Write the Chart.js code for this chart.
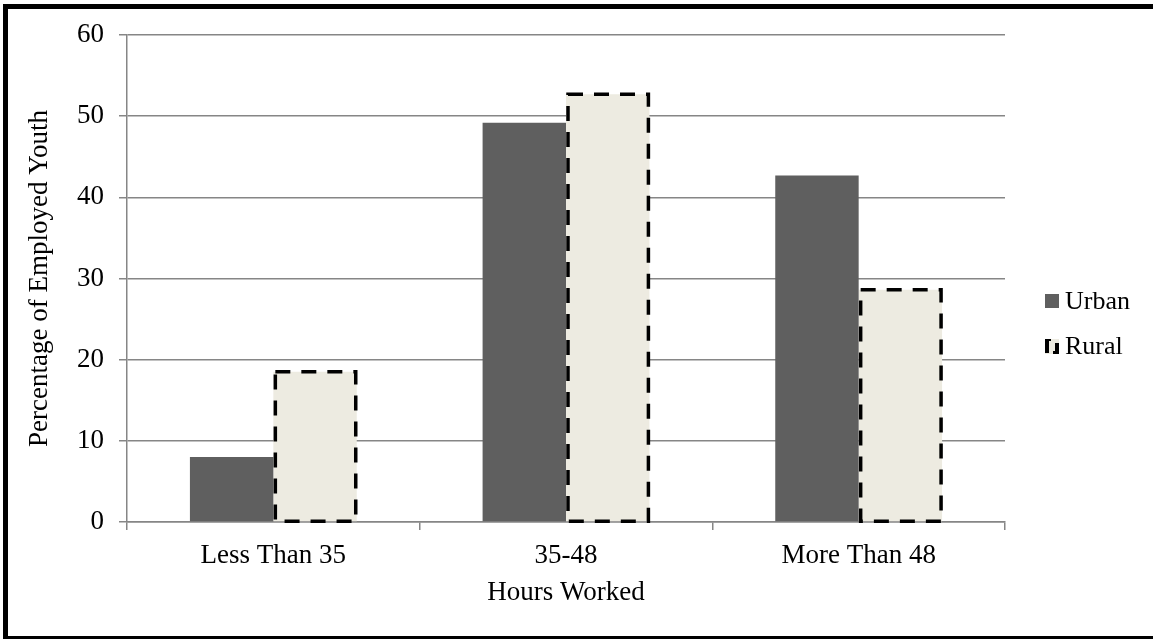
<!DOCTYPE html>
<html>
<head>
<meta charset="utf-8">
<script src="https://cdn.jsdelivr.net/npm/chart.js@4/dist/chart.umd.min.js"></script>
<style>
	html, body { margin: 0; padding: 0; background: #fff; overflow: hidden; }
	#wrap { position: relative; width: 1153px; height: 639px; }
	#frame {
		position: absolute; left: 3px; top: 4px; width: 1170px; height: 636px;
		box-sizing: border-box; border: 5px solid #000; border-bottom-width: 4px;
		pointer-events: none;
	}
</style>
</head>
<body>
<div id="wrap">
	<canvas id="chart-hours" width="1153" height="639"></canvas>
	<div id="frame"></div>
</div>
<script>
// Data
const categories = ["Less Than 35", "35-48", "More Than 48"];
const urbanValues = [8.0, 49.2, 42.7];
const ruralValues = [18.5, 52.7, 28.6];
const yTicks = [0, 10, 20, 30, 40, 50, 60];

const FONT = "'Liberation Serif', 'Times New Roman', serif";
const URBAN_COLOR = "#5f5f5f";
const RURAL_COLOR = "#edebe1";
const GRID_COLOR = "#868686";

// Dashed outline for the rural bars (bar elements have no borderDash)
const dashedBars = {
	id: "dashedBars",
	afterDatasetsDraw(chart) {
		const ctx = chart.ctx;
		const meta = chart.getDatasetMeta(1);
		ctx.save();
		ctx.strokeStyle = "#000";
		ctx.lineWidth = 3.5;
		ctx.setLineDash([15, 11]);
		meta.data.forEach((bar) => {
			const p = bar.getProps(["x", "y", "base", "width"], true);
			const left = p.x - p.width / 2 + 2;
			const right = p.x + p.width / 2 - 1;
			ctx.beginPath();
			ctx.rect(left, p.y, right - left, p.base - p.y);
			ctx.stroke();
		});
		ctx.restore();
	},
};

// Legend drawn at the right, like the original
const sideLegend = {
	id: "sideLegend",
	afterDraw(chart) {
		const ctx = chart.ctx;
		const x = 1045;
		ctx.save();
		ctx.font = "26px " + FONT;
		ctx.textBaseline = "middle";

		// Urban
		ctx.fillStyle = URBAN_COLOR;
		ctx.fillRect(x, 294, 14, 14);
		ctx.fillStyle = "#000";
		ctx.fillText(chart.data.datasets[0].label, x + 20, 302);

		// Rural: light box with broken black edges
		ctx.fillStyle = RURAL_COLOR;
		ctx.fillRect(x, 339, 14, 15);
		ctx.fillStyle = "#000";
		ctx.fillRect(x, 340, 4, 13);
		ctx.fillRect(x, 339, 6, 2);
		ctx.fillRect(x + 10, 343, 4, 11);
		ctx.fillRect(x + 8, 351, 6, 3);
		ctx.fillText(chart.data.datasets[1].label, x + 20, 347);
		ctx.restore();
	},
};

const CHART_DATA = {
	labels: categories,
	datasets: [
		{
			label: "Urban",
			data: urbanValues,
			backgroundColor: URBAN_COLOR,
			borderWidth: 0,
			barPercentage: 1,
			categoryPercentage: 0.57,
		},
		{
			label: "Rural",
			data: ruralValues,
			backgroundColor: RURAL_COLOR,
			borderWidth: 0,
			barPercentage: 1,
			categoryPercentage: 0.57,
		},
	],
};

const CHART_CONFIG = {
	type: "bar",
	data: CHART_DATA,
	plugins: [dashedBars, sideLegend],
	options: {
		responsive: false,
		animation: false,
		layout: {
			padding: { left: 8, right: 148, top: 35, bottom: 8 },
		},
		plugins: {
			legend: { display: false },
			title: { display: false },
			tooltip: { enabled: false },
		},
		scales: {
			x: {
				afterFit: (scale) => { scale.height = 109; },
				border: { display: true, color: GRID_COLOR, width: 1.5 },
				grid: {
					display: true,
					drawOnChartArea: false,
					drawTicks: true,
					tickLength: 8,
					color: GRID_COLOR,
					lineWidth: 1.5,
				},
				ticks: {
					color: "#000",
					padding: 10,
					font: { family: FONT, size: 27 },
				},
				title: {
					display: true,
					text: "Hours Worked",
					color: "#000",
					font: { family: FONT, size: 27 },
					padding: { top: 0, bottom: 22 },
				},
			},
			y: {
				min: 0,
				max: 60,
				afterFit: (scale) => { scale.width = 119; },
				afterBuildTicks: (scale) => { scale.ticks = yTicks.map((v) => ({ value: v })); },
				border: { display: true, color: GRID_COLOR, width: 1.5 },
				grid: {
					color: GRID_COLOR,
					lineWidth: 1.5,
					tickLength: 8,
				},
				ticks: {
					color: "#000",
					padding: 15,
					font: { family: FONT, size: 27 },
				},
				title: {
					display: true,
					text: "Percentage of Employed Youth",
					color: "#000",
					font: { family: FONT, size: 27 },
					padding: { top: 16, bottom: 0 },
				},
			},
		},
	},
};

new Chart(document.getElementById("chart-hours"), CHART_CONFIG);
</script>
</body>
</html>
